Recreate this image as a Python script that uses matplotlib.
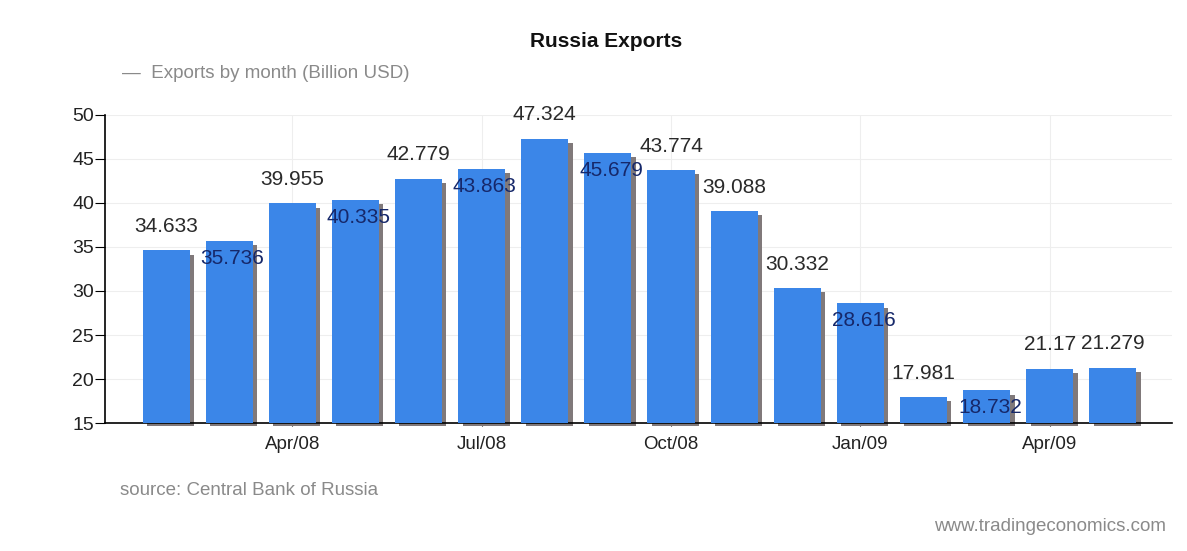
import matplotlib.pyplot as plt
import numpy as np

plt.rcParams['font.family'] = ['Liberation Sans', 'DejaVu Sans']

months = ['Feb/08', 'Mar/08', 'Apr/08', 'May/08', 'Jun/08', 'Jul/08', 'Aug/08', 'Sep/08',
          'Oct/08', 'Nov/08', 'Dec/08', 'Jan/09', 'Feb/09', 'Mar/09', 'Apr/09', 'May/09']
exports = [34.633, 35.736, 39.955, 40.335, 42.779, 43.863, 47.324, 45.679,
           43.774, 39.088, 30.332, 28.616, 17.981, 18.732, 21.17, 21.279]
# True = label above the bar, False = label just under the bar top
label_above = [True, False, True, False, True, False, True, False,
               True, True, True, False, True, False, True, True]
tick_months = ['Apr/08', 'Jul/08', 'Oct/08', 'Jan/09', 'Apr/09']

fig = plt.figure(figsize=(11.87, 5.51), dpi=100)
ax = fig.add_axes([0.0885, 0.2323, 0.8985, 0.559])

x = np.arange(len(exports))
base = 15
h = np.array(exports) - base

# shadow first, then the blue bars
ax.bar(x + 0.07, h - 0.2, bottom=base - 0.3, width=0.745, color='#80797a',
       zorder=2, clip_on=False)
ax.bar(x, h, bottom=base, width=0.745, color='#3b86e8', zorder=3)

for xi, v, up in zip(x, exports, label_above):
    if up:
        ax.text(xi, v + 2.7, f'{v:g}', ha='center', va='center', fontsize=15,
                color='#2a2a2a', zorder=5, clip_on=False)
    else:
        ax.text(xi + 0.05, v - 2.0, f'{v:g}', ha='center', va='center', fontsize=15,
                color='#16286a', zorder=5)

ax.set_xlim(-0.966, 15.93)
ax.set_ylim(15, 50)
ax.set_yticks(np.arange(15, 51, 5))
ax.set_xticks([months.index(m) for m in tick_months])
ax.set_xticklabels(tick_months)
ax.tick_params(axis='y', labelsize=14, length=7, direction='out', pad=1, labelcolor='#222222')
ax.tick_params(axis='x', labelsize=13.5, length=5, direction='inout', pad=7, labelcolor='#222222')

ax.grid(True, color='#eeeeee', linewidth=0.8, zorder=0)
ax.set_axisbelow(True)
for s in ['top', 'right']:
    ax.spines[s].set_visible(False)
ax.spines['left'].set_linewidth(1.2)
ax.spines['bottom'].set_linewidth(1.2)

fig.text(0.511, 0.925, 'Russia Exports', ha='center', va='center', fontsize=15,
         fontweight='bold', color='#111111')
fig.text(0.103, 0.866, '\u2014  Exports by month (Billion USD)', ha='left', va='center',
         fontsize=13.5, color='#8a8a8a')
fig.text(0.101, 0.11, 'source: Central Bank of Russia', ha='left', va='center',
         fontsize=13.5, color='#8a8a8a')
fig.text(0.982, 0.045, 'www.tradingeconomics.com', ha='right', va='center',
         fontsize=13.5, color='#8a8a8a')

fig.savefig('out.png', dpi=100)
